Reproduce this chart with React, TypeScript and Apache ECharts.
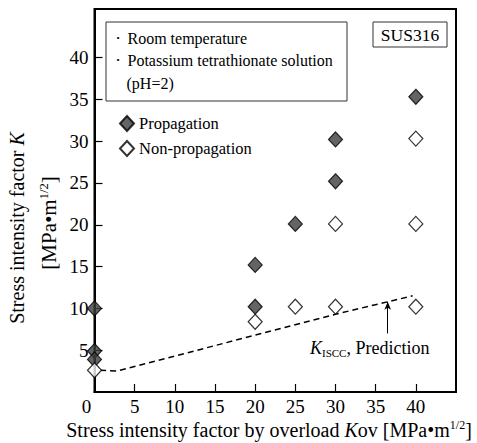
import React, { useEffect, useRef } from 'react';
import * as echarts from 'echarts';

const FONT = 'Liberation Serif, Times New Roman, serif';

const xTickValues = [0, 5, 10, 15, 20, 25, 30, 35, 40];
const xMinorTicks = [5, 10, 15, 20, 25, 30, 35, 40];
const yTickValues = [5, 10, 15, 20, 25, 30, 35, 40];

const propagationX = [0, 0, 0, 20, 20, 25, 30, 30, 40];
const propagationY = [10, 4.9, 3.9, 10.2, 15.2, 20.1, 25.2, 30.2, 35.3];

const nonPropagationX = [0, 20, 25, 30, 40, 30, 40, 40];
const nonPropagationY = [2.6, 8.4, 10.2, 10.2, 10.2, 20.1, 20.1, 30.3];

const predictionX = [0.7, 2.8, 20, 30, 39.6];
const predictionY = [2.6, 2.5, 6.8, 9.3, 11.5];

const arrowX = 36.5;
const arrowFromY = 7.0;
const arrowToY = 10.8;

const zip = (xs: number[], ys: number[]) => xs.map((x, i) => [x, ys[i]]);

export default function App() {
  const ref = useRef<HTMLDivElement>(null);

  useEffect(() => {
    document.body.style.margin = '0';
    if (!ref.current) return;
    const chart = echarts.init(ref.current, null, { renderer: 'svg' });

    const option: any = {
      animation: false,
      backgroundColor: '#fff',
      textStyle: { fontFamily: FONT },
      grid: {
        left: 94.5,
        right: 21,
        top: 9,
        bottom: 51,
        show: true,
        borderColor: '#000',
        borderWidth: 2,
        outerBoundsMode: 'none',
        containLabel: false,
      },
      xAxis: {
        type: 'value',
        min: 0,
        max: 45,
        interval: 5,
        axisLine: { show: true, onZero: false, lineStyle: { color: '#000', width: 2 } },
        axisTick: {
          show: true,
          inside: true,
          length: 8,
          lineStyle: { color: '#000', width: 1.2 },
          customValues: xMinorTicks,
        },
        axisLabel: {
          customValues: xTickValues,
          margin: 5,
          color: '#000',
          fontSize: 19,
          fontFamily: FONT,
          formatter: (v: number) => (v === 0 ? '{z|0}' : String(v)),
          rich: { z: { fontSize: 19, fontFamily: FONT, color: '#000', padding: [0, 16, 0, 0] } },
        },
        splitLine: { show: false },
      },
      yAxis: {
        type: 'value',
        min: 0,
        max: 45.8,
        interval: 5,
        axisLine: { show: true, onZero: false, lineStyle: { color: '#000', width: 2 } },
        axisTick: {
          show: true,
          inside: true,
          length: 8,
          lineStyle: { color: '#000', width: 1.2 },
          customValues: yTickValues,
        },
        axisLabel: {
          customValues: yTickValues,
          margin: 6,
          color: '#000',
          fontSize: 19,
          fontFamily: FONT,
        },
        splitLine: { show: false },
      },
      legend: {
        orient: 'vertical',
        left: 119,
        top: 115,
        padding: 0,
        itemWidth: 14,
        itemHeight: 15,
        itemGap: 8,
        selectedMode: false,
        data: ['Propagation', 'Non-propagation'],
        textStyle: { fontSize: 16.5, fontFamily: FONT, color: '#000' },
      },
      series: [
        {
          name: 'Prediction',
          type: 'line',
          data: zip(predictionX, predictionY),
          symbol: 'none',
          z: 2,
          lineStyle: { color: '#000', width: 1.5, type: [6, 4] },
          markLine: {
            silent: true,
            symbol: ['none', 'arrow'],
            symbolSize: [5, 8],
            label: { show: false },
            lineStyle: { color: '#000', width: 1, type: 'solid' },
            data: [[{ coord: [arrowX, arrowFromY] }, { coord: [arrowX, arrowToY] }]],
          },
        },
        {
          name: 'Propagation',
          type: 'scatter',
          data: zip(propagationX, propagationY),
          symbol: 'diamond',
          symbolSize: [14, 15],
          z: 3,
          itemStyle: { color: '#3d3d3d', borderColor: '#000', borderWidth: 1.2 },
        },
        {
          name: 'Non-propagation',
          type: 'scatter',
          data: zip(nonPropagationX, nonPropagationY),
          symbol: 'diamond',
          symbolSize: [14, 15],
          z: 4,
          itemStyle: { color: '#fff', borderColor: '#000', borderWidth: 1.2 },
        },
      ],
      graphic: [
        {
          type: 'rect',
          shape: { x: 106, y: 22, width: 241, height: 79 },
          style: { fill: 'none', stroke: '#333', lineWidth: 1 },
        },
        {
          type: 'rect',
          shape: { x: 373, y: 22, width: 74, height: 25 },
          style: { fill: 'none', stroke: '#333', lineWidth: 1 },
        },
        {
          type: 'text',
          x: 410,
          y: 35,
          style: { text: 'SUS316', fontSize: 17.5, fontFamily: FONT, fill: '#000', align: 'center', verticalAlign: 'middle' },
        },
        {
          type: 'text',
          x: 118,
          y: 38,
          style: { text: '•', fontSize: 9, fontFamily: FONT, fill: '#000', align: 'center', verticalAlign: 'middle' },
        },
        {
          type: 'text',
          x: 118,
          y: 60,
          style: { text: '•', fontSize: 9, fontFamily: FONT, fill: '#000', align: 'center', verticalAlign: 'middle' },
        },
        {
          type: 'text',
          x: 127.5,
          y: 38,
          style: { text: 'Room temperature', fontSize: 16, fontFamily: FONT, fill: '#000', align: 'left', verticalAlign: 'middle' },
        },
        {
          type: 'text',
          x: 127.5,
          y: 60,
          style: { text: 'Potassium tetrathionate solution', fontSize: 16, fontFamily: FONT, fill: '#000', align: 'left', verticalAlign: 'middle' },
        },
        {
          type: 'text',
          x: 126.5,
          y: 83,
          style: { text: '(pH=2)', fontSize: 16, fontFamily: FONT, fill: '#000', align: 'left', verticalAlign: 'middle' },
        },
        {
          type: 'text',
          x: 310,
          y: 348,
          style: {
            text: '{i|K}{s|ISCC}{n|, Prediction}',
            align: 'left',
            verticalAlign: 'middle',
            rich: {
              i: { fontSize: 18, fontFamily: FONT, fontStyle: 'italic', fill: '#000', lineHeight: 20 },
              s: { fontSize: 11, fontFamily: FONT, fill: '#000', verticalAlign: 'bottom', lineHeight: 20 },
              n: { fontSize: 18, fontFamily: FONT, fill: '#000', lineHeight: 20 },
            },
          },
        },
        {
          type: 'text',
          x: 17,
          y: 228,
          rotation: Math.PI / 2,
          style: {
            text: '{n|Stress intensity factor }{i|K}',
            align: 'center',
            verticalAlign: 'middle',
            rich: {
              n: { fontSize: 20, fontFamily: FONT, fill: '#000' },
              i: { fontSize: 20, fontFamily: FONT, fontStyle: 'italic', fill: '#000' },
            },
          },
        },
        {
          type: 'text',
          x: 49,
          y: 223,
          rotation: Math.PI / 2,
          style: {
            text: '{n|[MPa•m}{s|1/2}{n|]}',
            align: 'center',
            verticalAlign: 'middle',
            rich: {
              n: { fontSize: 21, fontFamily: FONT, fill: '#000', lineHeight: 23 },
              s: { fontSize: 12.5, fontFamily: FONT, fill: '#000', verticalAlign: 'top', lineHeight: 23 },
            },
          },
        },
        {
          type: 'text',
          x: 269,
          y: 430,
          style: {
            text: '{n|Stress intensity factor by overload }{i|K}{n|ov [MPa•m}{s|1/2}{n|]}',
            align: 'center',
            verticalAlign: 'middle',
            rich: {
              n: { fontSize: 20, fontFamily: FONT, fill: '#000', lineHeight: 22 },
              i: { fontSize: 20, fontFamily: FONT, fontStyle: 'italic', fill: '#000', lineHeight: 22 },
              s: { fontSize: 12, fontFamily: FONT, fill: '#000', verticalAlign: 'top', lineHeight: 22 },
            },
          },
        },
      ],
    };

    chart.setOption(option);
    return () => chart.dispose();
  }, []);

  return <div ref={ref} style={{ width: 477, height: 443 }} />;
}
